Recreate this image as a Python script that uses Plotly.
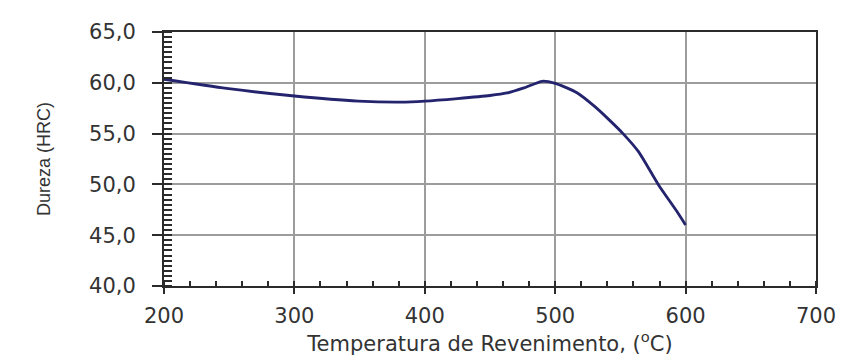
import plotly.graph_objects as go

temperatura = [200, 248, 300, 349, 382, 400, 425, 450, 463, 476, 490, 500, 508, 517, 530, 541, 552, 564, 579, 593, 600]
dureza = [60.35, 59.45, 58.7, 58.2, 58.1, 58.2, 58.45, 58.75, 59.0, 59.5, 60.15, 59.95, 59.55, 59.0, 57.7, 56.4, 55.0, 53.2, 50.0, 47.4, 46.0]

x_ticks = [200, 300, 400, 500, 600, 700]
y_ticks = [40, 45, 50, 55, 60, 65]

AXIS = "#2b2b2b"
GRID = "#9c9c9c"
TXT = "#333333"

fig = go.Figure()
fig.add_trace(go.Scatter(
    x=temperatura, y=dureza, mode="lines",
    line=dict(color="#23236e", width=2.8, shape="spline", smoothing=0.6),
    showlegend=False, hoverinfo="skip",
))

fig.update_layout(
    width=848, height=358,
    margin=dict(l=164, r=27, t=32, b=70),
    paper_bgcolor="white", plot_bgcolor="white",
    separators=", ",
    font=dict(family="DejaVu Sans", color=TXT),
    xaxis=dict(
        range=[200, 700], tickvals=x_ticks, ticktext=[str(v) for v in x_ticks],
        showgrid=True, gridcolor=GRID, gridwidth=1.6,
        showline=True, linecolor=AXIS, linewidth=2, mirror=True,
        ticks="outside", ticklen=6, tickwidth=2, tickcolor=AXIS,
        minor=dict(dtick=20, tick0=200, ticks="inside", ticklen=5, tickwidth=2, tickcolor=AXIS, showgrid=False),
        tickfont=dict(family="DejaVu Sans", size=21, color=TXT),
        ticklabelstandoff=4,
        title=dict(text="Temperatura de Revenimento, (<sup>o</sup>C)",
                   font=dict(family="DejaVu Sans", size=21, color=TXT), standoff=3),
        zeroline=False,
    ),
    yaxis=dict(
        range=[40, 65], tickvals=y_ticks, tickformat=".1f",
        showgrid=True, gridcolor=GRID, gridwidth=1.6,
        showline=True, linecolor=AXIS, linewidth=2, mirror=True,
        ticks="outside", ticklen=10, tickwidth=2, tickcolor=AXIS,
        minor=dict(dtick=0.5, tick0=40, ticks="inside", ticklen=8, tickwidth=1.6, tickcolor=AXIS, showgrid=False),
        tickfont=dict(family="DejaVu Sans", size=21, color=TXT),
        ticklabelstandoff=12,
        title=dict(text="Dureza (HRC)", font=dict(family="Liberation Sans", size=18, color=TXT), standoff=34),
        zeroline=False,
    ),
)

fig.write_html("out.html")
